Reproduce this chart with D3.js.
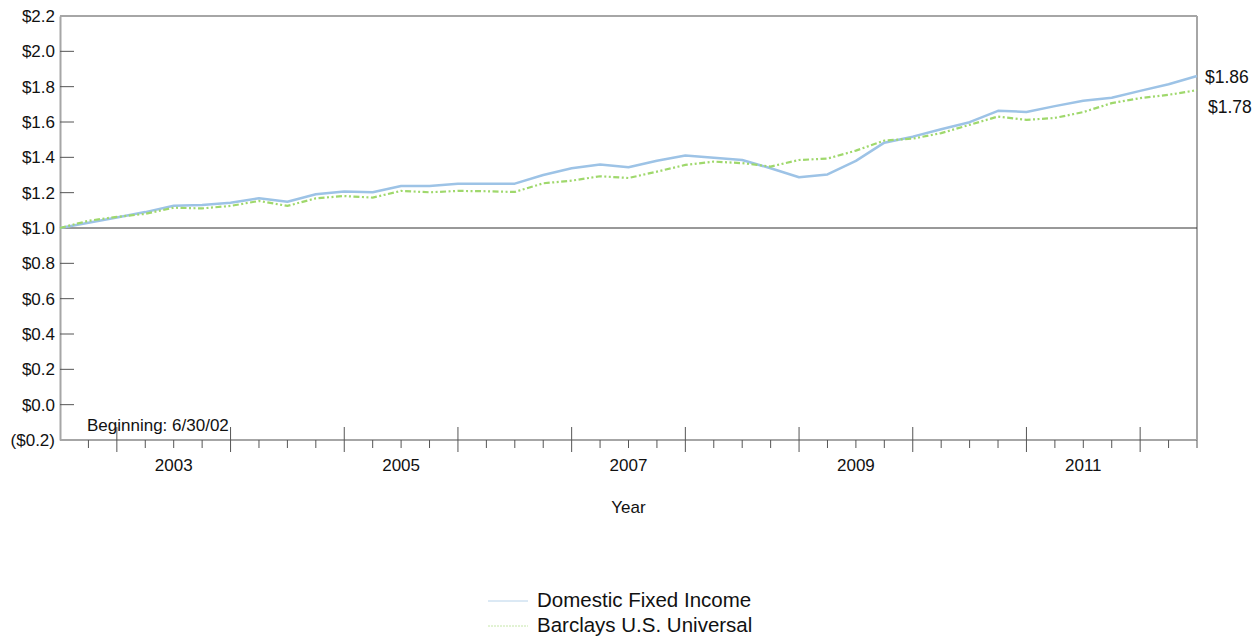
<!DOCTYPE html>
<html><head><meta charset="utf-8">
<script src="https://cdn.jsdelivr.net/npm/d3@7"></script>
<style>
html,body{margin:0;padding:0;background:#fff;}
text{font-family:"Liberation Sans",Arial,sans-serif;fill:#111;}
</style></head>
<body>
<svg id="chart" width="1260" height="639"></svg>
<script>
// ---- data (quarter ends, 6/30/02 .. 6/30/12) ----
const startDate = "2002-06-30";
const quarterCount = 41;
const domesticFixedIncome = [1.000,1.030,1.060,1.090,1.126,1.130,1.143,1.168,1.149,1.191,1.206,1.202,1.238,1.238,1.251,1.251,1.251,1.300,1.338,1.359,1.344,1.381,1.410,1.397,1.385,1.338,1.287,1.303,1.380,1.483,1.517,1.559,1.599,1.663,1.657,1.690,1.720,1.737,1.776,1.814,1.860];
const barclaysUniversal = [1.000,1.041,1.063,1.080,1.115,1.111,1.125,1.153,1.125,1.168,1.181,1.172,1.210,1.202,1.210,1.208,1.204,1.253,1.268,1.293,1.283,1.319,1.357,1.376,1.367,1.348,1.385,1.393,1.438,1.495,1.506,1.537,1.584,1.631,1.612,1.623,1.656,1.707,1.735,1.754,1.780];
const yTickValues = [-0.2,0.0,0.2,0.4,0.6,0.8,1.0,1.2,1.4,1.6,1.8,2.0,2.2];
const yearLabels = [2003,2005,2007,2009,2011];
const seriesNames = ["Domestic Fixed Income","Barclays U.S. Universal"];
const endLabels = ["$1.86","$1.78"];

const svg = d3.select("#chart");
const L = 60, R = 1197, T = 16, B = 440;
const quarters = d3.range(quarterCount).map(i => i);
const x = d3.scaleLinear().domain([0, quarterCount - 1]).range([L, R]);
const y = d3.scaleLinear().domain([-0.2, 2.2]).range([B, T]);

const fmt = v => {
  const s = "$" + Math.abs(v).toFixed(1);
  return v < -1e-9 ? "(" + s + ")" : s;
};

// frame top and right
svg.append("line").attr("x1",L).attr("x2",R).attr("y1",T).attr("y2",T).attr("stroke","#a6a6a6").attr("stroke-width",2);
svg.append("line").attr("x1",R).attr("x2",R).attr("y1",T).attr("y2",B).attr("stroke","#a6a6a6").attr("stroke-width",2);

// y axis
const yAxis = d3.axisLeft(y).tickValues(yTickValues).tickFormat(fmt).tickSize(0).tickPadding(5);
const gy = svg.append("g").attr("transform",`translate(${L},0)`).call(yAxis);
gy.select(".domain").attr("stroke","#a6a6a6").attr("stroke-width",2);
gy.selectAll("text").style("font-size","17px").attr("font-family","Liberation Sans, Arial, sans-serif").attr("fill","#111");
// inner ticks
const yInner = yTickValues.filter(v => v > -0.2 + 1e-9 && v < 2.2 - 1e-9 && Math.abs(v - 1.0) > 1e-9);
svg.append("g").selectAll("line").data(yInner).join("line")
  .attr("x1",L).attr("x2",L+14).attr("y1",d=>y(d)).attr("y2",d=>y(d))
  .attr("stroke","#555").attr("stroke-width",1);

// baseline at 1.0
svg.append("line").attr("x1",L).attr("x2",R).attr("y1",y(1.0)).attr("y2",y(1.0)).attr("stroke","#333").attr("stroke-width",1);

// x axis
svg.append("line").attr("x1",L).attr("x2",R).attr("y1",B).attr("y2",B).attr("stroke","#a6a6a6").attr("stroke-width",2);
const minorQ = quarters.filter(q => q > 0 && (q - 2) % 4 !== 0);
const majorQ = quarters.filter(q => q > 0 && q < quarterCount - 1 && (q - 2) % 4 === 0);
svg.append("g").selectAll("line").data(minorQ).join("line")
  .attr("x1",d=>x(d)).attr("x2",d=>x(d)).attr("y1",B).attr("y2",B+8)
  .attr("stroke","#555").attr("stroke-width",1);
svg.append("g").selectAll("line").data(majorQ).join("line")
  .attr("x1",d=>x(d)).attr("x2",d=>x(d)).attr("y1",B-13).attr("y2",B+12)
  .attr("stroke","#555").attr("stroke-width",1);
// year labels centered at mid-year (Q2 end of that year)
svg.append("g").selectAll("text").data(yearLabels).join("text")
  .attr("x", d => x((d - 2002) * 4 + 0)).attr("y", 471)
  .attr("text-anchor","middle").style("font-size","17px").text(d => d);

svg.append("text").attr("x",(L+R)/2).attr("y",513).attr("text-anchor","middle").style("font-size","17px").text("Year");
svg.append("text").attr("x",87).attr("y",431).style("font-size","17px").text("Beginning: 6/30/02");

// lines
const line = d3.line().x((d,i)=>x(i)).y(d=>y(d));
svg.append("path").datum(domesticFixedIncome).attr("d",line).attr("fill","none")
  .attr("stroke","#9dc3e6").attr("stroke-width",2.5).attr("stroke-linejoin","round");
svg.append("path").datum(barclaysUniversal).attr("d",line).attr("fill","none")
  .attr("stroke","#9fd86c").attr("stroke-width",2.2).attr("stroke-dasharray","6,2.5,2,2.5,2,2.5");

// end labels
svg.append("text").attr("x",1205).attr("y",83).style("font-size","17.5px").text(endLabels[0]);
svg.append("text").attr("x",1208).attr("y",113).style("font-size","17.5px").text(endLabels[1]);

// legend
const lg = svg.append("g");
lg.append("line").attr("x1",488).attr("x2",528).attr("y1",601).attr("y2",601).attr("stroke","#b8d3ea").attr("stroke-width",1);
lg.append("line").attr("x1",488).attr("x2",528).attr("y1",626).attr("y2",626).attr("stroke","#c5e6a8").attr("stroke-width",1).attr("stroke-dasharray","2,1");
lg.append("text").attr("x",537).attr("y",607).style("font-size","20.5px").text(seriesNames[0]);
lg.append("text").attr("x",537).attr("y",632).style("font-size","20.5px").text(seriesNames[1]);
</script>
</body></html>
